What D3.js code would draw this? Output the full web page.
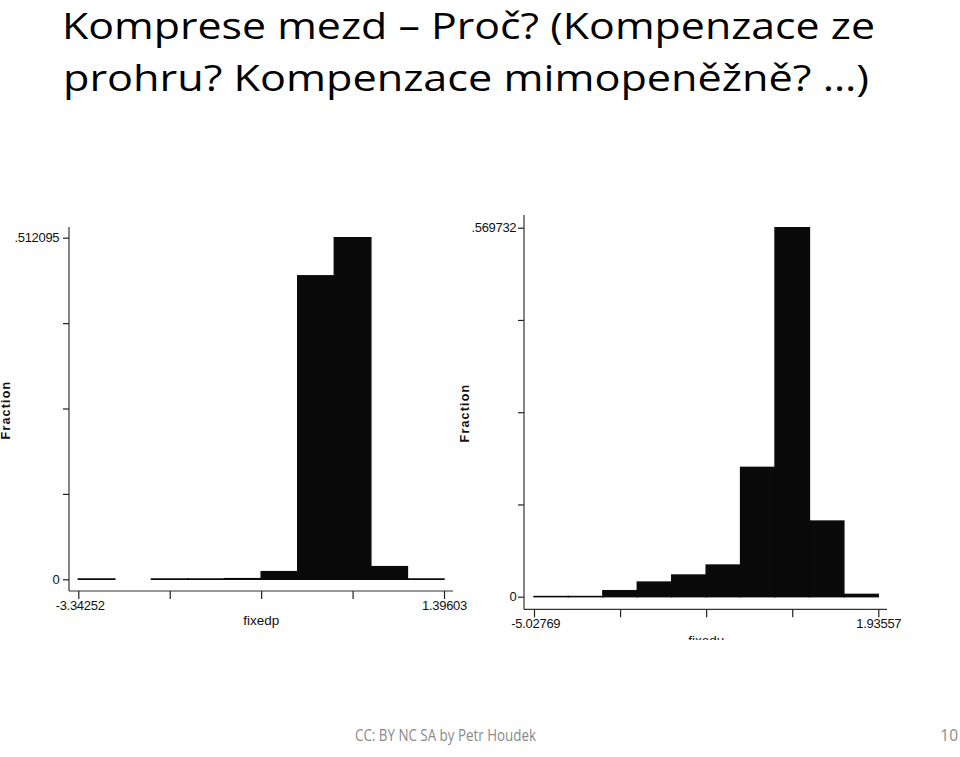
<!DOCTYPE html>
<html><head><meta charset="utf-8">
<script src="https://cdn.jsdelivr.net/npm/d3@7"></script>
<style>body{margin:0;background:#fff;} svg{display:block;}</style>
</head><body>
<svg id="c" width="960" height="757"></svg>
<script>
// ---- data ----
const titleLines = ["Komprese mezd \u2013 Pro\u010d? (Kompenzace ze", "prohru? Kompenzace mimopen\u011b\u017en\u011b? \u2026)"];
const footerText = "CC: BY NC SA by Petr Houdek";
const pageNumber = "10";

const leftDomain = [-3.34252, 1.39603];
const leftMax = 0.512095;
const leftValues = [0.0005, null, 0.0005, 0.0005, 0.001, 0.0115, 0.455, 0.512095, 0.019, 0.0005];
const leftXLabel = "fixedp";
const leftTickLabels = ["-3.34252", "1.39603"];
const leftYLabel = ".512095";

const rightDomain = [-5.02769, 1.93557];
const rightMax = 0.569732;
const rightValues = [0.0003, 0.0003, 0.0093, 0.0226, 0.0335, 0.0489, 0.1997, 0.569732, 0.1168, 0.0036];
const rightXLabel = "fixedu";
const rightTickLabels = ["-5.02769", "1.93557"];
const rightYLabel = ".569732";

const svg = d3.select("#c");

// ---- title ----
const title = svg.append("g");
title.append("text").attr("x", 62).attr("y", 38.5).text(titleLines[0])
  .attr("textLength", 813).attr("lengthAdjust", "spacingAndGlyphs");
title.append("text").attr("x", 63).attr("y", 91).text(titleLines[1])
  .attr("textLength", 806).attr("lengthAdjust", "spacingAndGlyphs");
title.selectAll("text").attr("font-family", "'Open Sans', sans-serif").attr("font-size", 36).attr("fill", "#000");

// ---- footer ----
svg.append("text").attr("x", 355).attr("y", 741).text(footerText)
  .attr("textLength", 181).attr("lengthAdjust", "spacingAndGlyphs")
  .attr("font-family", "'Open Sans', sans-serif").attr("font-size", 15.5).attr("fill", "#8a8a8a");
svg.append("text").attr("x", 958).attr("y", 741).attr("text-anchor", "end").text(pageNumber)
  .attr("font-family", "'Open Sans', sans-serif").attr("font-size", 15.5).attr("fill", "#8a8a8a");

// ---- histogram drawer ----
function hist(cfg) {
  const g = svg.append("g");
  const x = d3.scaleLinear().domain(cfg.domain).range([cfg.x0, cfg.x1]);
  const y = d3.scaleLinear().domain([0, cfg.max]).range([cfg.y0, cfg.y1]);
  const n = cfg.values.length;
  const w = (cfg.domain[1] - cfg.domain[0]) / n;
  const bins = cfg.values.map((v, i) => ({v, a: cfg.domain[0] + i * w, b: cfg.domain[0] + (i + 1) * w}));

  if (cfg.clip) {
    const id = "clip" + Math.round(cfg.x0);
    svg.append("clipPath").attr("id", id).append("rect").attr("x", 0).attr("y", 0).attr("width", 960).attr("height", cfg.clip);
    g.attr("clip-path", `url(#${id})`);
  }

  // bars
  g.selectAll("rect.bar").data(bins.filter(d => d.v !== null)).join("rect")
    .attr("class", "bar")
    .attr("x", d => x(d.a))
    .attr("width", d => x(d.b) - x(d.a))
    .attr("y", d => y(d.v))
    .attr("height", d => Math.max(0, y(0) - y(d.v)))
    .attr("fill", "#0a0a0a").attr("stroke", "#0a0a0a").attr("stroke-width", 1.4);

  // y axis
  const yTicks = d3.range(5).map(i => cfg.max * i / 4);
  const yAxis = d3.axisLeft(y).tickValues(yTicks).tickSize(6).tickPadding(cfg.yPad)
    .tickFormat((d, i) => i === 0 ? "0" : (i === 4 ? cfg.yLabel : ""));
  const ya = g.append("g").attr("transform", `translate(${cfg.axisX},0)`).call(yAxis);
  ya.select(".domain").attr("d", `M0,${cfg.axTop}V${cfg.axisY}`);

  // x axis
  const xTicks = d3.range(5).map(i => cfg.domain[0] + (cfg.domain[1] - cfg.domain[0]) * i / 4);
  const xAxis = d3.axisBottom(x).tickValues(xTicks).tickSize(8)
    .tickFormat((d, i) => i === 0 ? cfg.tickLabels[0] : (i === 4 ? cfg.tickLabels[1] : ""));
  const xa = g.append("g").attr("transform", `translate(0,${cfg.axisY})`).call(xAxis);
  xa.select(".domain").attr("d", `M${cfg.axisX},0H${cfg.axRight}`);

  [ya, xa].forEach(a => {
    a.selectAll(".domain").attr("stroke", "#333").attr("stroke-width", 1.2);
    a.selectAll(".tick line").attr("stroke", "#222").attr("stroke-width", 1.2);
    a.selectAll("text").attr("font-family", "'Liberation Sans', Arial, sans-serif")
      .attr("font-size", 13).attr("fill", "#111").attr("letter-spacing", -0.3);
  });
  ya.selectAll("text").attr("dx", "0.1em");
  xa.selectAll("text").attr("dy", "0.6em");
  xa.selectAll(".tick").filter((d, i) => i === 0).select("text").attr("dx", "0.1em");

  // axis titles
  g.append("text").attr("x", (cfg.x0 + cfg.x1) / 2).attr("y", cfg.xTitleY).attr("text-anchor", "middle")
    .attr("font-family", "'Liberation Sans', Arial, sans-serif").attr("font-size", 13.5).attr("fill", "#111")
    .text(cfg.xLabel);
  g.append("text").attr("transform", `translate(${cfg.fracX},${cfg.fracY}) rotate(-90)`)
    .attr("text-anchor", "middle")
    .attr("font-family", "'Liberation Sans', Arial, sans-serif").attr("font-size", 12.5).attr("font-weight", "bold")
    .attr("letter-spacing", 1.2).attr("fill", "#111")
    .text("Fraction");
}

hist({domain: leftDomain, max: leftMax, values: leftValues, x0: 78.3, x1: 444, y0: 579.3, y1: 237.7,
  axisX: 69, axisY: 591, axTop: 227, axRight: 453, yLabel: leftYLabel, tickLabels: leftTickLabels,
  xLabel: leftXLabel, xTitleY: 625, fracX: 10, fracY: 410, yPad: 5});

hist({domain: rightDomain, max: rightMax, values: rightValues, x0: 534, x1: 878.3, y0: 596.7, y1: 227.7,
  axisX: 524, axisY: 609.3, axTop: 215, axRight: 887, yLabel: rightYLabel, tickLabels: rightTickLabels,
  xLabel: rightXLabel, xTitleY: 645, fracX: 469, fracY: 413, clip: 640, yPad: 3});
</script>
</body></html>
